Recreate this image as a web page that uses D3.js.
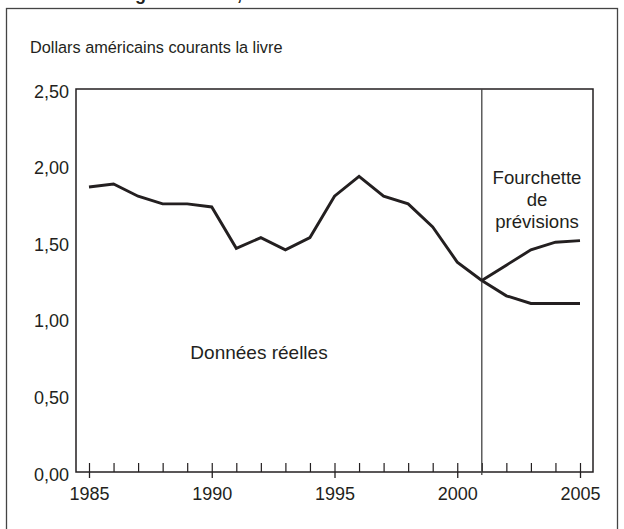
<!DOCTYPE html>
<html lang="fr">
<head>
  <meta charset="UTF-8">
  <script src="https://d3js.org/d3.v7.min.js"></script>
  <title>Dollars américains courants la livre</title>
  <style>
    body { margin: 0; background: #fff; }
    svg { display: block; font-family: "Liberation Sans", Arial, sans-serif; }
    text { fill: #231f20; }
    .axis path, .axis line { stroke: #231f20; }
  </style>
</head>
<body>
<div id="chart"></div>
<script>
  // real data, 1985-2001
  var years = [1985, 1986, 1987, 1988, 1989, 1990, 1991, 1992, 1993, 1994, 1995, 1996, 1997, 1998, 1999, 2000, 2001];
  var prices = [1.86, 1.88, 1.80, 1.75, 1.75, 1.73, 1.46, 1.53, 1.45, 1.53, 1.80, 1.93, 1.80, 1.75, 1.60, 1.37, 1.25];

  // forecast range
  var forecastYears = [2001, 2002, 2003, 2004, 2005];
  var forecastHigh = [1.25, 1.35, 1.45, 1.50, 1.51];
  var forecastLow = [1.25, 1.15, 1.10, 1.10, 1.10];

  var tickYears = [1985, 1986, 1987, 1988, 1989, 1990, 1991, 1992, 1993, 1994, 1995, 1996, 1997, 1998, 1999, 2000, 2001, 2002, 2003, 2004, 2005];
  var labelYears = [1985, 1990, 1995, 2000, 2005];
  var yTicks = [0, 0.5, 1, 1.5, 2, 2.5];
  var forecastStart = 2001;

  var W = 624, H = 529;
  var plotLeft = 76, plotRight = 593, plotTop = 89, plotBottom = 472;

  var svg = d3.select("#chart").append("svg")
    .attr("width", W)
    .attr("height", H);

  // title, mostly cut off at the top of the picture
  svg.append("text")
    .attr("x", 119).attr("y", 0)
    .style("font-size", "18px").style("font-weight", "bold")
    .text("Figure 2 : Lait, 1985-2005");

  // outer frame
  svg.append("rect")
    .attr("x", 6.5).attr("y", 8.5)
    .attr("width", 611).attr("height", 540)
    .attr("fill", "none").attr("stroke", "#444").attr("stroke-width", 1.3);

  var x = d3.scaleLinear().domain([1985, 2005]).range([89, 580]);
  var y = d3.scaleLinear().domain([0, 2.5]).range([plotBottom, plotTop]);

  svg.append("text")
    .attr("x", 30).attr("y", 53)
    .style("font-size", "16.3px")
    .text("Dollars américains courants la livre");

  // plot box
  svg.append("rect")
    .attr("x", plotLeft).attr("y", plotTop)
    .attr("width", plotRight - plotLeft).attr("height", plotBottom - plotTop)
    .attr("fill", "none").attr("stroke", "#231f20").attr("stroke-width", 1.5);

  // y labels
  svg.append("g")
    .attr("class", "axis")
    .attr("transform", "translate(" + plotLeft + ",0)")
    .call(d3.axisLeft(y).tickValues(yTicks).tickSize(0).tickPadding(7)
      .tickFormat(function (d) { return d3.format(".2f")(d).replace(".", ","); }))
    .call(function (g) { g.select(".domain").remove(); })
    .selectAll("text").style("font-size", "18px").attr("dy", "0.45em");

  // x ticks: all years point up, labelled years cross the axis
  svg.append("g")
    .attr("class", "axis")
    .attr("transform", "translate(0," + plotBottom + ")")
    .call(d3.axisBottom(x).tickValues(tickYears).tickSize(-9).tickFormat(""))
    .call(function (g) { g.select(".domain").remove(); })
    .selectAll("line").attr("stroke-width", 1.2);

  svg.append("g")
    .attr("class", "axis")
    .attr("transform", "translate(0," + plotBottom + ")")
    .call(d3.axisBottom(x).tickValues(labelYears).tickSize(6).tickPadding(9).tickFormat(d3.format("d")))
    .call(function (g) { g.select(".domain").remove(); })
    .call(function (g) { g.selectAll("line").attr("stroke-width", 1.3); })
    .selectAll("text").style("font-size", "18px");

  // forecast divider
  svg.append("line")
    .attr("x1", x(forecastStart)).attr("x2", x(forecastStart))
    .attr("y1", plotTop).attr("y2", plotBottom + 3)
    .attr("stroke", "#444").attr("stroke-width", 1.3);

  var line = d3.line()
    .x(function (d) { return x(d[0]); })
    .y(function (d) { return y(d[1]); });

  var series = [
    d3.zip(years, prices),
    d3.zip(forecastYears, forecastHigh),
    d3.zip(forecastYears, forecastLow)
  ];

  svg.selectAll("path.series")
    .data(series)
    .enter()
    .append("path")
    .attr("class", "series")
    .attr("d", line)
    .attr("fill", "none")
    .attr("stroke", "#231f20")
    .attr("stroke-width", 2.9)
    .attr("stroke-linejoin", "miter");

  svg.append("text")
    .attr("x", 259).attr("y", 359)
    .attr("text-anchor", "middle")
    .style("font-size", "19px")
    .text("Données réelles");

  var fc = svg.append("text")
    .attr("text-anchor", "middle")
    .style("font-size", "18.6px");
  ["Fourchette", "de", "prévisions"].forEach(function (s, i) {
    fc.append("tspan")
      .attr("x", 537).attr("y", 184 + i * 22)
      .text(s);
  });
</script>
</body>
</html>
